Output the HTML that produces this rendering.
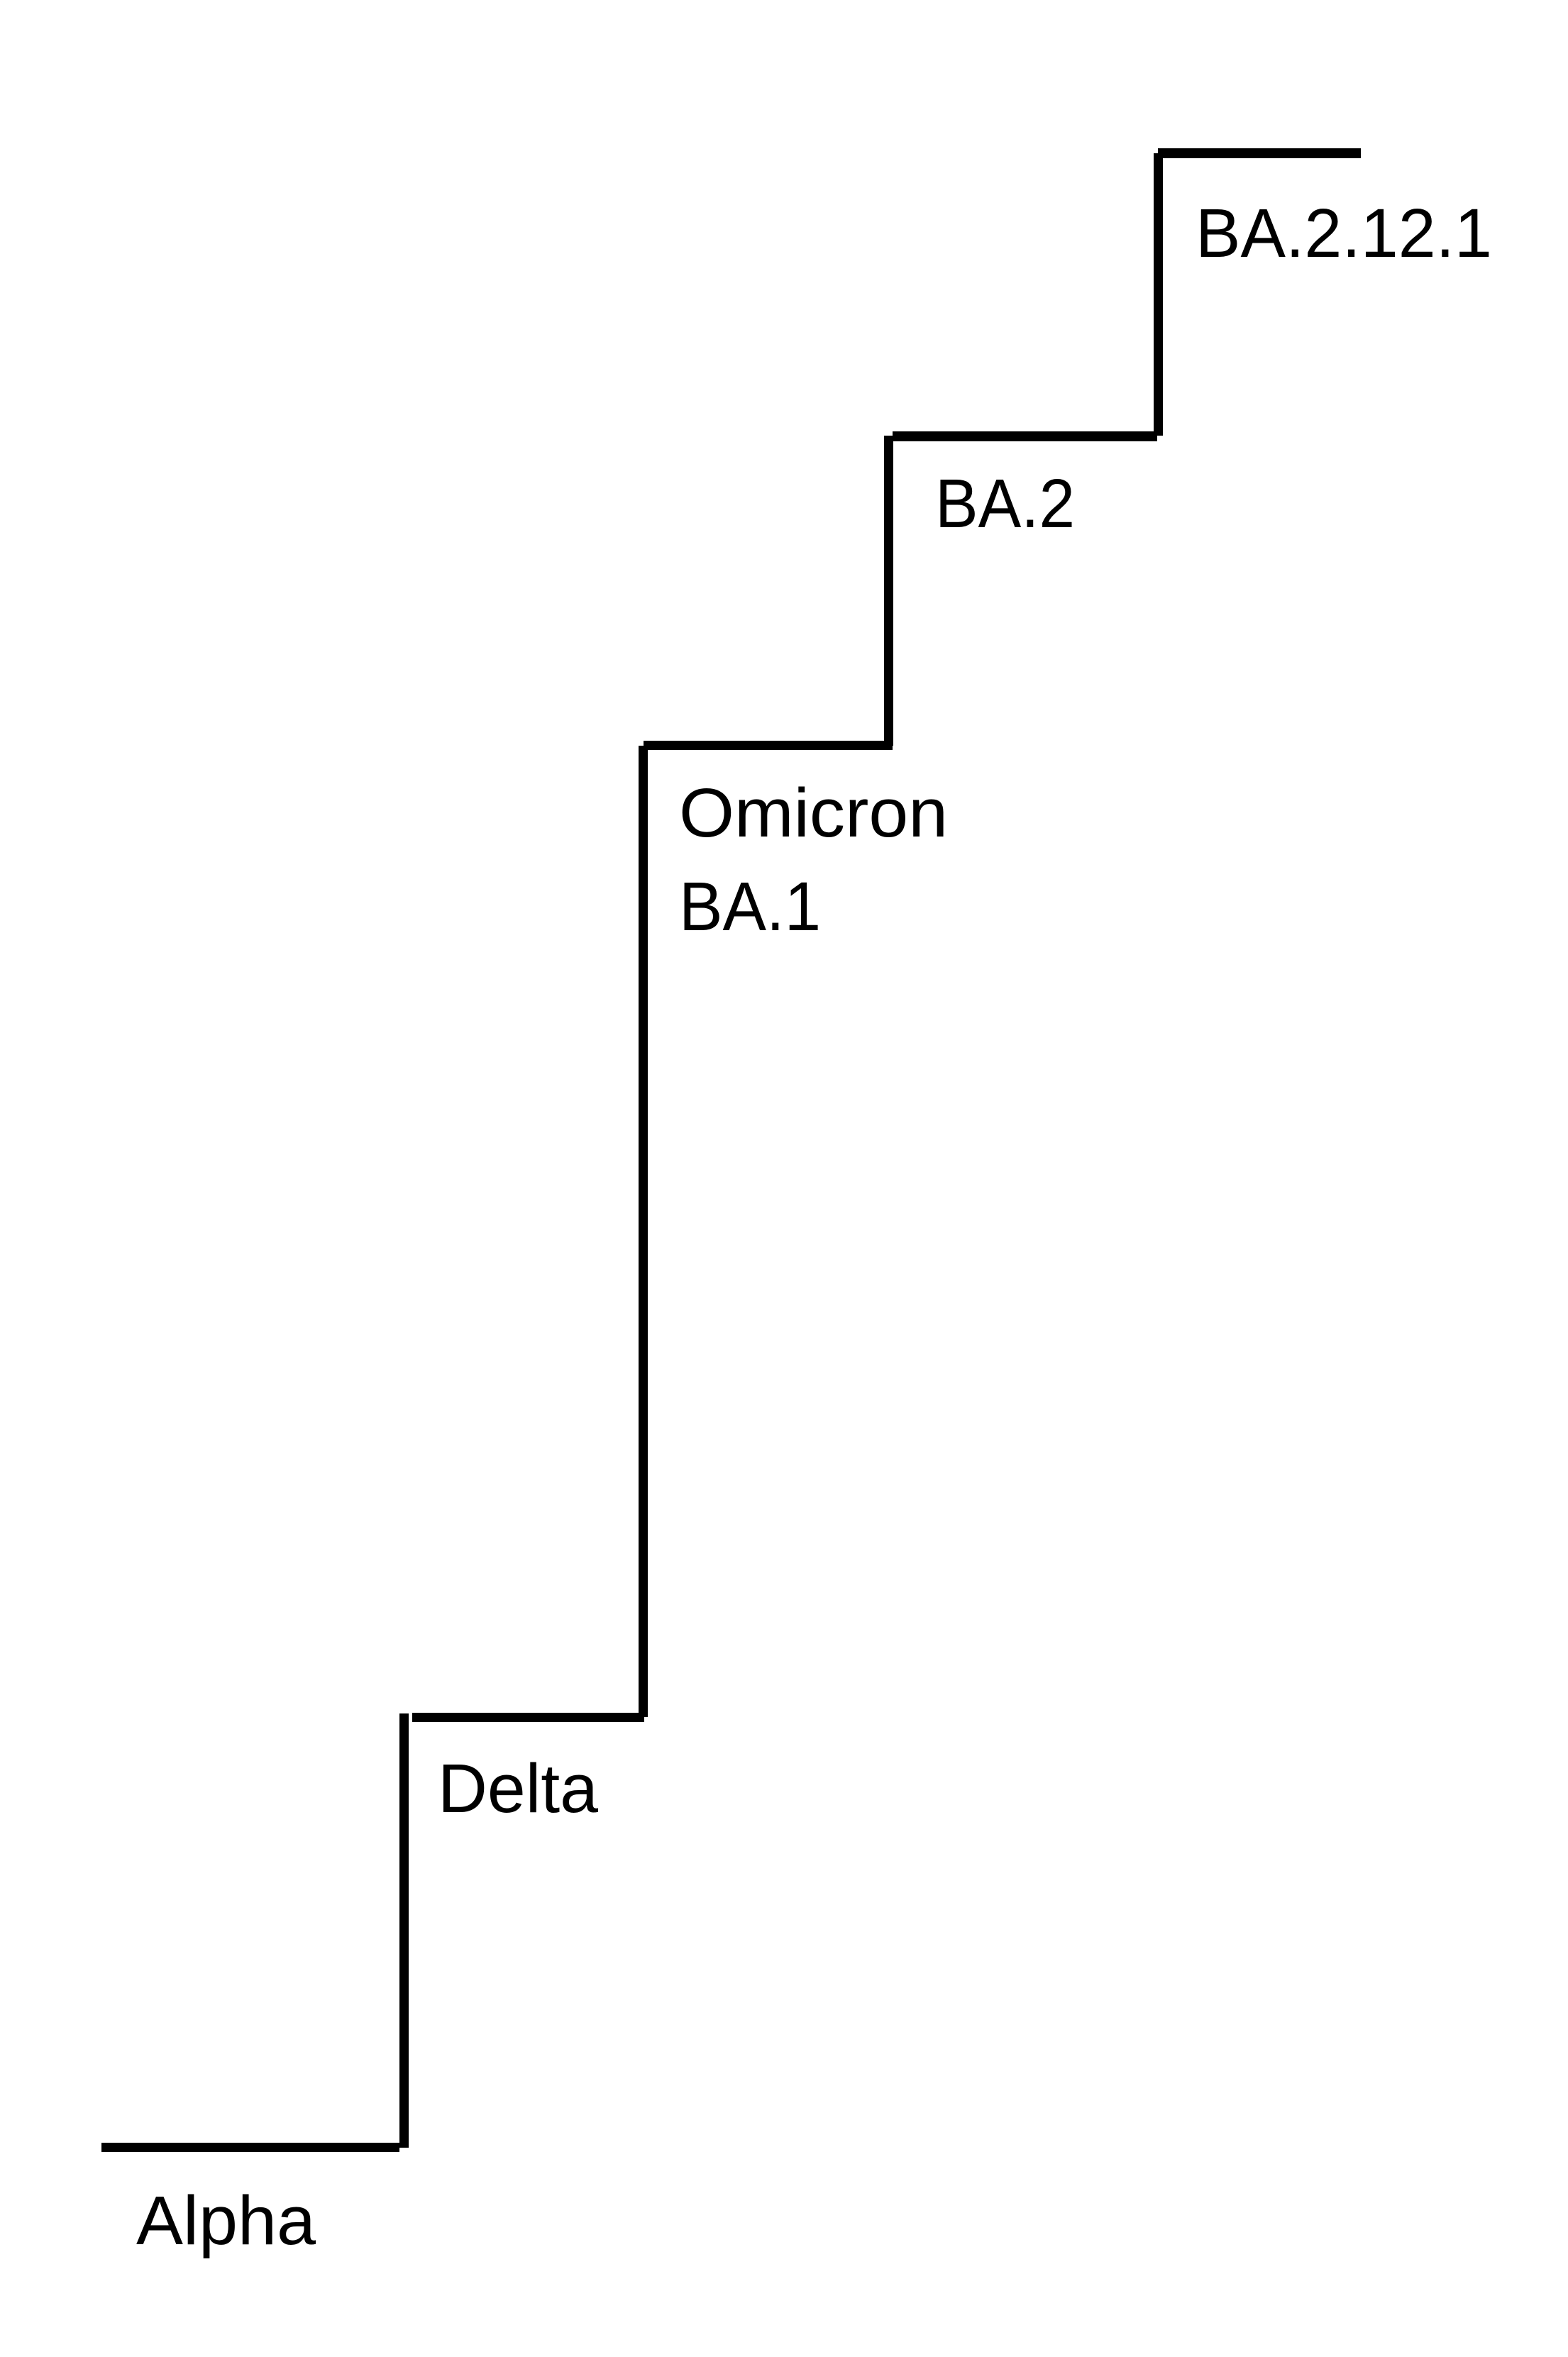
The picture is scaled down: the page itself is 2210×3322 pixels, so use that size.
<!DOCTYPE html>
<html>
<head>
<meta charset="utf-8">
<style>
html,body{margin:0;padding:0;background:#fff;}
svg{display:block;}
text{font-family:"Liberation Sans",sans-serif;font-size:97px;fill:#000;}
</style>
</head>
<body>
<svg width="2210" height="3322" viewBox="0 0 2210 3322" xmlns="http://www.w3.org/2000/svg">
<rect x="0" y="0" width="2210" height="3322" fill="#fff"/>
<g fill="#000">
<rect x="143" y="3020" width="420" height="13"/>
<rect x="563" y="2415" width="13" height="612"/>
<rect x="581" y="2414" width="327" height="13"/>
<rect x="900" y="1051" width="13" height="1369"/>
<rect x="907" y="1044" width="351" height="13"/>
<rect x="1246" y="614" width="13" height="437"/>
<rect x="1258" y="608" width="373" height="14"/>
<rect x="1626" y="216" width="13" height="398"/>
<rect x="1632" y="209" width="286" height="14"/>
</g>
<text x="1685" y="362" textLength="418" lengthAdjust="spacingAndGlyphs">BA.2.12.1</text>
<text x="1318" y="743" textLength="197" lengthAdjust="spacingAndGlyphs">BA.2</text>
<text x="957" y="1179" textLength="379" lengthAdjust="spacingAndGlyphs">Omicron</text>
<text x="957" y="1311" textLength="200" lengthAdjust="spacingAndGlyphs">BA.1</text>
<text x="617" y="2554" textLength="226" lengthAdjust="spacingAndGlyphs">Delta</text>
<text x="192" y="3163" textLength="253" lengthAdjust="spacingAndGlyphs">Alpha</text>
</svg>
</body>
</html>
